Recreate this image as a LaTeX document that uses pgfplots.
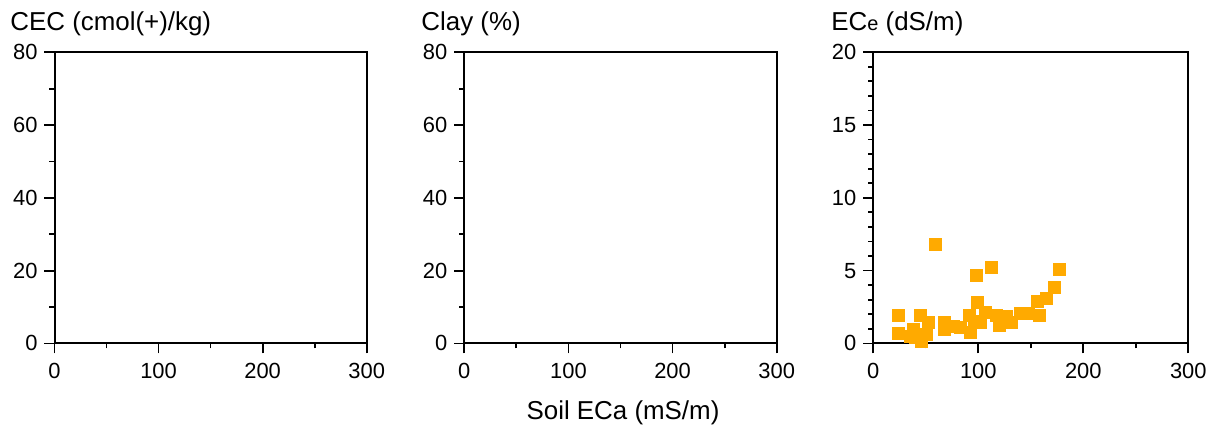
\documentclass[border=0pt]{standalone}
\usepackage{fontspec}
\setmainfont{Liberation Sans}
\usepackage{pgfplots}
\pgfplotsset{compat=1.18}
\definecolor{pt}{RGB}{255,170,0}
\pgfplotsset{
  panel/.style={
    scale only axis, anchor=south west,
    axis line style={line width=1bp},
    every tick/.style={black, line width=0.9bp},
    tick align=outside, xtick pos=bottom, ytick pos=left,
    major tick length=5bp, minor tick length=2.5bp,
    xmin=0, xmax=300, xtick={0,100,200,300}, minor x tick num=1,
    tick label style={font=\fontsize{11}{12}\selectfont},
    xticklabel style={yshift=-1.5bp},
    /pgf/number format/assume math mode=true,
    clip=false,
  }
}
\begin{document}
\begin{tikzpicture}
\path[use as bounding box] (0,0) rectangle (607.5bp,213bp);
\begin{axis}[panel, at={(27.25bp,41.3bp)}, width=156.1bp, height=145.6bp,
  ymin=0, ymax=80, ytick={0,20,40,60,80}, minor y tick num=1]
\addplot[draw=none] coordinates {(0,0)};
\end{axis}
\begin{axis}[panel, at={(232.15bp,41.3bp)}, width=156.2bp, height=145.6bp,
  ymin=0, ymax=80, ytick={0,20,40,60,80}, minor y tick num=1]
\addplot[draw=none] coordinates {(0,0)};
\end{axis}
\begin{axis}[panel, at={(436.65bp,41.3bp)}, width=157.5bp, height=145.6bp,
  ymin=0, ymax=20, ytick={0,5,10,15,20}, minor y tick num=4]
\addplot[only marks, mark=square*, mark size=3bp,
  mark options={fill=pt, draw=pt, rounded corners=1.5bp}] coordinates {
(23.8,1.92) (23.8,0.69) (35,0.5) (38,0.96) (39.7,0.39) (44.5,1.92) (46,0.16)
(50.8,0.62) (52.4,1.42) (59,6.8) (67.3,1.42) (67.3,0.96) (82.6,1.08)
(91.4,1.95) (92,0.73) (98.5,4.67) (99,2.79) (101.6,1.42) (106.4,2.1)
(112.8,5.2) (117.5,1.92) (120,1.24) (123.6,1.75) (127,1.87) (131.8,1.42)
(139.7,2.04) (147.6,2.04) (158,1.95) (156.2,2.88) (164.5,3.07) (172,3.82)
(177,5.08) (96,1.5) (76,1.2)
};
\end{axis}
\node[anchor=base west, font=\fontsize{13}{15}\selectfont, inner sep=0] at (5bp,197.6bp) {CEC (cmol(+)/kg)};
\node[anchor=base west, font=\fontsize{13}{15}\selectfont, inner sep=0] at (210.5bp,197.6bp) {Clay (\%)};
\node[anchor=base west, font=\fontsize{13}{15}\selectfont, inner sep=0] at (415.5bp,197.6bp) {EC{\fontsize{10}{11}\selectfont e} (dS/m)};
\node[anchor=base, font=\fontsize{13}{15}\selectfont, inner sep=0] at (311.5bp,3.4bp) {Soil ECa (mS/m)};
\end{tikzpicture}
\end{document}
